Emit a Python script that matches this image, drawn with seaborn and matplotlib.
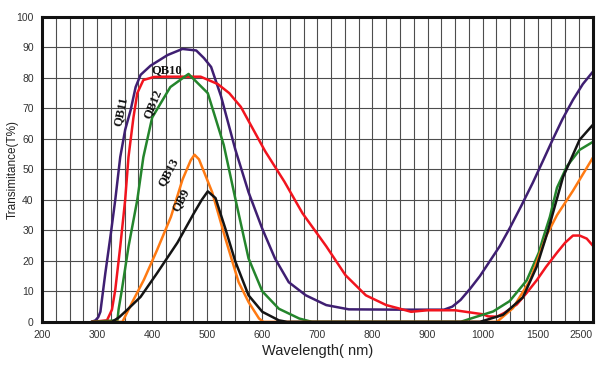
import numpy as np
import pandas as pd
import matplotlib
matplotlib.use("Agg")
import matplotlib.pyplot as plt
import seaborn as sns

# ===== DATA =====
QB11_NM = [290, 297, 302, 306, 315, 325, 333, 342, 351, 361, 370, 379, 397, 428, 455, 480,
           494, 507, 525, 551, 575, 600, 623, 648, 679, 716, 757, 850, 930, 945, 960, 977,
           995, 1155, 1250, 1350, 1455, 1600, 1770, 1950, 2140, 2320, 2500]
QB11_T = [0, 0.5, 1.5, 3.3, 16, 29, 40, 54, 63, 69.5, 77, 81, 84, 87.5, 89.5, 89,
          86.5, 83.6, 74, 56.5, 42.5, 30.5, 20.8, 13, 8.7, 5.5, 4.1, 4, 4, 5, 7.2, 10.8,
          15, 24.8, 31, 38, 45.6, 53, 59.7, 66.5, 72.8, 78, 82]

QB10_NM = [290, 318, 327, 333, 342, 351, 357, 366, 373, 384, 403, 420, 488, 519, 540, 561,
           605, 640, 673, 716, 751, 788, 825, 850, 870, 900, 950, 1000, 1050, 1130, 1200,
           1310, 1400, 1490, 1650, 1850, 2000, 2140, 2260, 2390, 2500]
QB10_T = [0, 0.5, 4, 10.5, 24.6, 40, 54, 67, 75, 79.3, 80.3, 80.4, 80.4, 78, 75, 70.5,
          56, 46, 35.6, 24.8, 15.3, 8.7, 5.5, 4.3, 3.3, 3.8, 3.8, 2.5, 1.8, 1.7, 3,
          5.7, 9.5, 13.6, 18, 22.7, 26, 28.3, 28.3, 27.3, 25]

QB12_NM = [290, 337, 339, 345, 357, 373, 384, 400, 433, 466, 501, 530, 551, 575, 600, 630,
           667, 690, 960, 977, 1095, 1245, 1400, 1520, 1590, 1720, 1850, 2030, 2260, 2500]
QB12_T = [0, 0.5, 4, 10.5, 24.6, 40, 54, 67, 77, 81.3, 75, 58, 40.4, 20.8, 10, 4.3,
          1.1, 0, 0, 1, 3.4, 6.8, 13.6, 22.7, 27, 34.4, 44, 51, 56.4, 59]

QB13_NM = [290, 346, 366, 385, 409, 434, 455, 470, 477, 485, 509, 533, 557, 575, 594, 602,
           1130, 1275, 1430, 1660, 1850, 2140, 2500]
QB13_T = [0, 0, 7.2, 13.8, 23.6, 34.4, 46.6, 53, 54.8, 53.3, 42.5, 27.3, 13, 6.5, 1.1, 0,
          0, 4.5, 13.6, 28.4, 35, 43, 53.8]

QB9_NM = [290, 327, 340, 355, 379, 409, 446, 476, 490, 501, 515, 533, 551, 575, 600, 630,
          645, 995, 1185, 1365, 1490, 1680, 1960, 2260, 2500]
QB9_T = [0, 0, 1.5, 4, 8.2, 16, 26, 35.7, 40, 42.8, 40.6, 30.5, 19.8, 8.7, 3.3, 0.5,
         0, 0, 2.3, 8, 18, 29.5, 47.5, 59.7, 64.6]

FILTERS = ["QB11", "QB10", "QB12", "QB13", "QB9"]
COLORS = {"QB11": "#3f1f72", "QB10": "#f2141e", "QB12": "#24852c",
          "QB13": "#ff7a12", "QB9": "#141414"}

X_TICKS = [200, 300, 400, 500, 600, 700, 800, 900, 1000, 1500, 2500]
Y_TICKS = list(range(0, 101, 10))

# curve labels: (wavelength, T, rotation)
LABELS = {"QB10": (427, 82.6, 0), "QB11": (343, 69, 78), "QB12": (401, 71.5, 68),
          "QB13": (429, 49, 62), "QB9": (452, 40, 62)}

# piecewise wavelength axis: 200..1000 even, then 1500 and 2500 one step each
BREAKS_NM = [200, 1000, 1500, 2500]
BREAKS_POS = [0, 8, 9, 10]


def fwd(x):
    return np.interp(x, BREAKS_NM, BREAKS_POS)


def inv(u):
    return np.interp(u, BREAKS_POS, BREAKS_NM)


# ===== BUILD TABLE =====
series = {"QB11": (QB11_NM, QB11_T), "QB10": (QB10_NM, QB10_T), "QB12": (QB12_NM, QB12_T),
          "QB13": (QB13_NM, QB13_T), "QB9": (QB9_NM, QB9_T)}
frames = []
for name in FILTERS:
    nm, t = series[name]
    frames.append(pd.DataFrame({"nm": nm, "T": t, "filter": name}))
df = pd.concat(frames, ignore_index=True)

# ===== PLOT =====
sns.set_style("white")
plt.rcParams["font.family"] = ["Liberation Sans", "DejaVu Sans"]

fig, ax = plt.subplots(figsize=(6, 3.76), dpi=100)
fig.subplots_adjust(left=0.07, right=0.988, top=0.955, bottom=0.144)

ax.set_xscale("function", functions=(fwd, inv))
sns.lineplot(data=df, x="nm", y="T", hue="filter", hue_order=FILTERS, palette=COLORS,
             estimator=None, sort=False, lw=1.8, legend=False, ax=ax)

ax.set_xlim(200, 2500)
ax.set_ylim(0, 100)
ax.set_xticks(X_TICKS)
ax.set_xticklabels([str(v) for v in X_TICKS])
ax.get_xticklabels()[-1].set_ha("right")
ax.set_xticks(inv(np.arange(0, 10.01, 0.25)), minor=True)
ax.set_yticks(Y_TICKS)
ax.grid(which="both", color="#4d4d4d", lw=0.8)
ax.set_axisbelow(True)
ax.tick_params(which="both", length=0, labelsize=7.5, labelcolor="#333333", pad=6)

for s in ax.spines.values():
    s.set_color("#111111")
    s.set_linewidth(2.2)

for name, (x, y, rot) in LABELS.items():
    ax.text(x, y, name, family="Liberation Serif", fontweight="bold", fontsize=9,
            rotation=rot, ha="center", va="center", color="#111111")

ax.set_xlabel("Wavelength( nm)", fontsize=10.5, color="#222222", labelpad=3)
ax.set_ylabel("Transimitance(T%)", fontsize=8.5, color="#222222")
ax.yaxis.set_label_coords(-0.043, 0.5)

fig.savefig("out.png", dpi=100)
